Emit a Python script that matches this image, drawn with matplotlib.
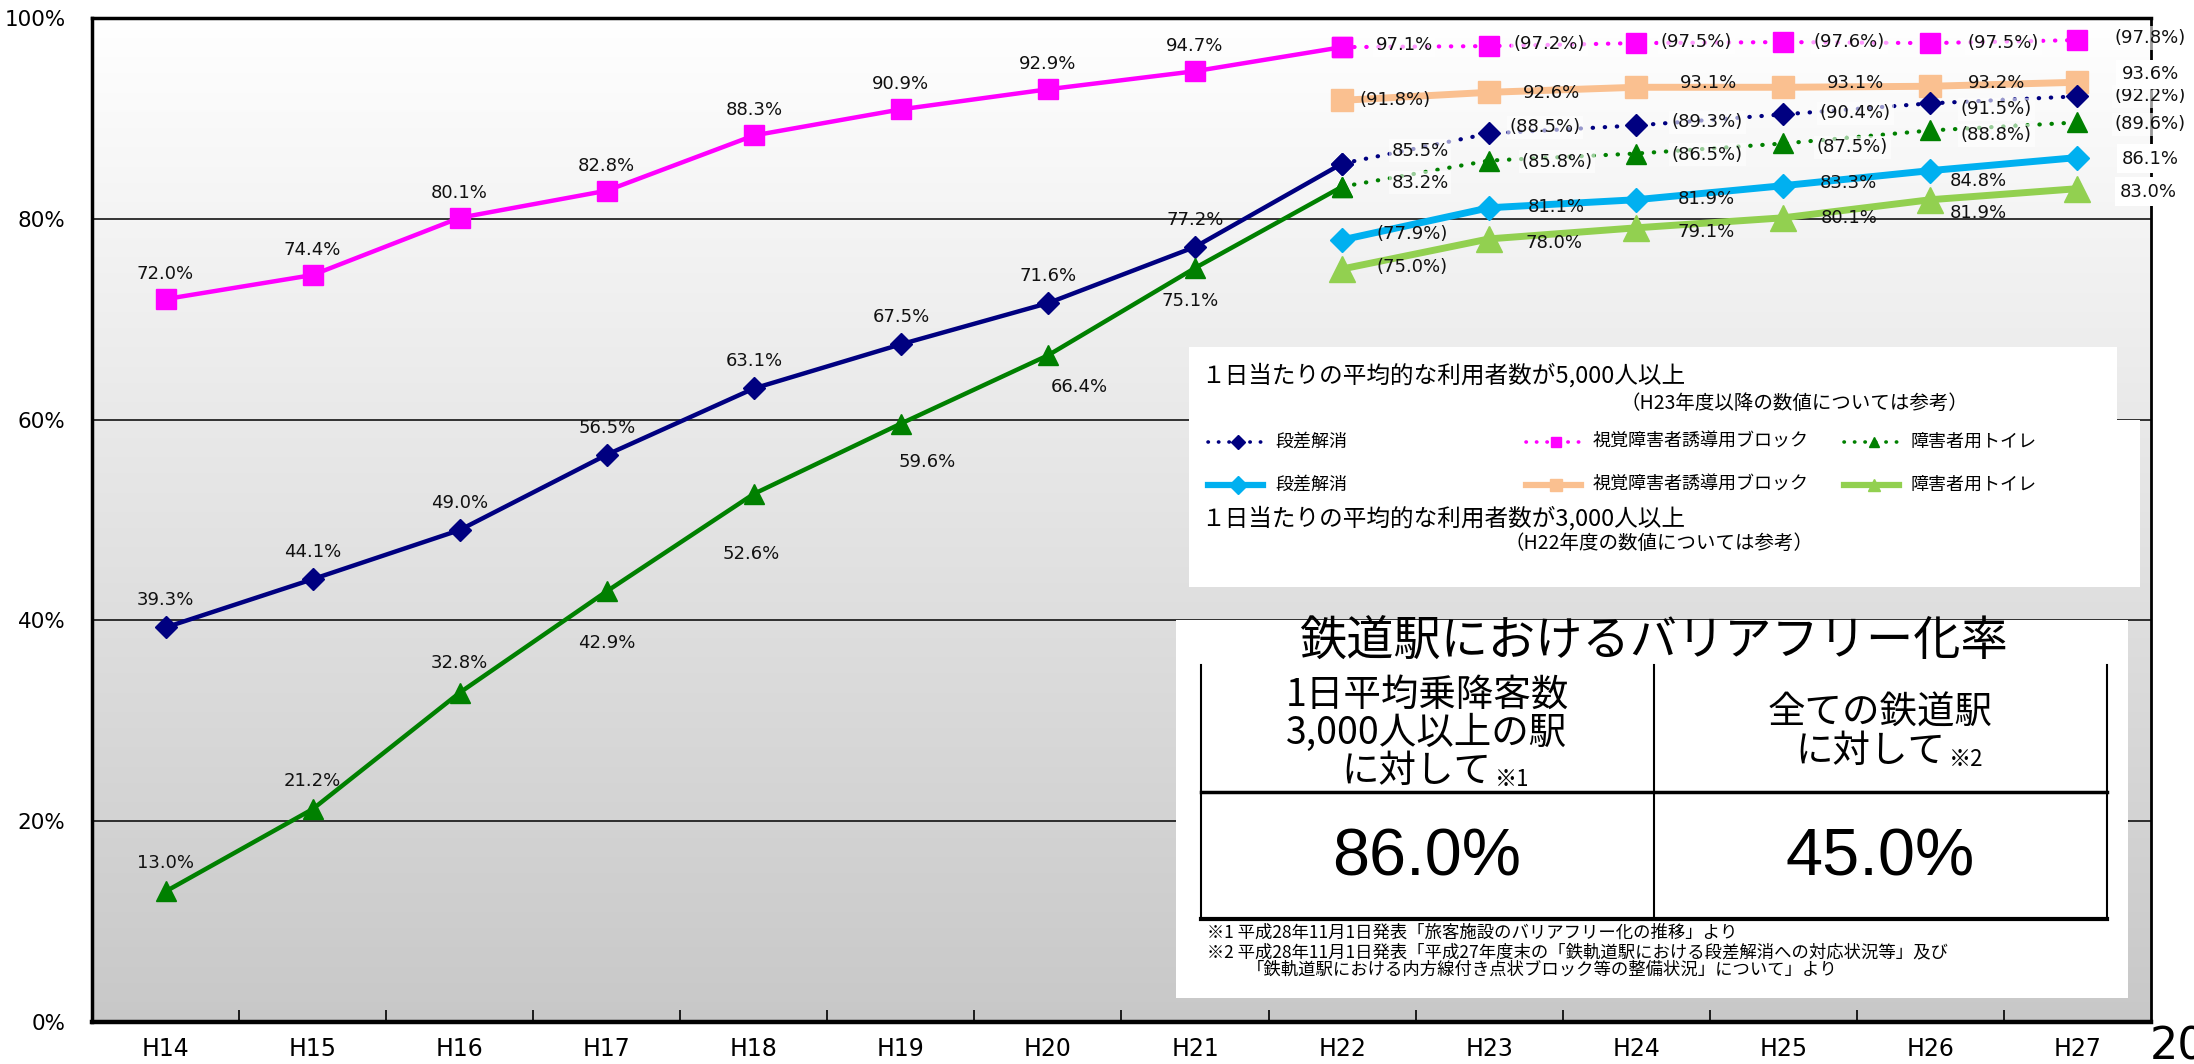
import numpy as np
import matplotlib
matplotlib.use("Agg")
import matplotlib.pyplot as plt
from matplotlib.patches import Rectangle

# --- data -------------------------------------------------------------
years = ["H14", "H15", "H16", "H17", "H18", "H19", "H20",
         "H21", "H22", "H23", "H24", "H25", "H26", "H27"]

# 1日当たりの平均的な利用者数が5,000人以上 (H14-H27)
block_5000 = [72.0, 74.4, 80.1, 82.8, 88.3, 90.9, 92.9, 94.7, 97.1, 97.2, 97.5, 97.6, 97.5, 97.8]
step_5000 = [39.3, 44.1, 49.0, 56.5, 63.1, 67.5, 71.6, 77.2, 85.5, 88.5, 89.3, 90.4, 91.5, 92.2]
toilet_5000 = [13.0, 21.2, 32.8, 42.9, 52.6, 59.6, 66.4, 75.1, 83.2, 85.8, 86.5, 87.5, 88.8, 89.6]

# 1日当たりの平均的な利用者数が3,000人以上 (H22-H27)
years_3000 = ["H22", "H23", "H24", "H25", "H26", "H27"]
step_3000 = [77.9, 81.1, 81.9, 83.3, 84.8, 86.1]
block_3000 = [91.8, 92.6, 93.1, 93.1, 93.2, 93.6]
toilet_3000 = [75.0, 78.0, 79.1, 80.1, 81.9, 83.0]

table_values = [86.0, 45.0]

# --- layout (pixel offsets of the value labels) -----------------------
off_block_5000 = [(0, 25)] * 8 + [(62, 2), (60, 2), (60, 1), (66, 0), (73, 0), (73, 2)]
off_step_5000 = [(0, 27)] * 8 + [(78, 13), (56, 6), (71, 3), (72, 1), (66, -6), (73, 0)]
off_toilet_5000 = [(0, 28), (0, 28), (0, 30), (0, -52), (-3, -60), (26, -38), (31, -32),
                   (-5, -33), (78, 4), (68, -1), (71, -1), (69, -4), (66, -5), (73, -2)]
off_step_3000 = [(70, 6), (67, 1), (70, 1), (65, 3), (48, -10), (73, -1)]
off_block_3000 = [(53, 0), (62, -1), (72, 4), (72, 4), (66, 3), (73, 8)]
off_toilet_3000 = [(70, 2), (65, -4), (70, -4), (66, 0), (48, -13), (71, -3)]

JP = ["Noto Sans CJK JP", "DejaVu Sans"]
plt.rcParams["font.family"] = ["DejaVu Sans", "Noto Sans CJK JP"]

W, H = 2194, 1064
fig = plt.figure(figsize=(W / 100, H / 100), dpi=100)
fig.patch.set_facecolor("white")

ax = fig.add_axes([92 / W, 1 - 1022 / H, (2151 - 92) / W, (1022 - 18) / H])
ax.set_xlim(-0.5, len(years) - 0.5)
ax.set_ylim(0, 100)

# gradient background
shade = np.linspace(255, 200, 256) / 255
ax.imshow(np.dstack([shade, shade, shade]).reshape(-1, 1, 3),
          extent=(-0.5, len(years) - 0.5, 0, 100), aspect="auto", zorder=0)
for g in [20, 40, 60, 80]:
    ax.axhline(g, color="black", lw=1.1, zorder=1)

x = np.arange(len(years))
split = years.index("H22")
x3 = np.array([years.index(y) for y in years_3000])
dots = (0, (0.1, 2.8))


def label_text(v, paren):
    return f"({v:.1f}%)" if paren else f"{v:.1f}%"


series_5000 = [
    (block_5000, "#ff00ff", "s", 14.5, off_block_5000),
    (step_5000, "#000080", "D", 11, off_step_5000),
    (toilet_5000, "#008000", "^", 15, off_toilet_5000),
]
for vals, col, mk, ms, offs in series_5000:
    ax.plot(x[:split + 1], vals[:split + 1], color=col, lw=3.2, marker=mk, ms=ms, zorder=4)
    ax.plot(x[split:], vals[split:], color=col, lw=3, ls=dots, dash_capstyle="round",
            marker=mk, ms=ms, zorder=4)
    for i, v in enumerate(vals):
        box = None
        if i >= split:
            box = dict(boxstyle="square,pad=0.15", fc="white", ec="none", alpha=0.6)
        ax.annotate(label_text(v, i > split), (x[i], v), xytext=offs[i],
                    textcoords="offset pixels", ha="center", va="center",
                    fontsize=13, color="#111111", bbox=box, zorder=6)

series_3000 = [
    (step_3000, "#00b0f0", "D", 12.5, off_step_3000),
    (block_3000, "#fac090", "s", 16, off_block_3000),
    (toilet_3000, "#92d050", "^", 19, off_toilet_3000),
]
for vals, col, mk, ms, offs in series_3000:
    ax.plot(x3, vals, color=col, lw=5, marker=mk, ms=ms, zorder=3)
    for i, v in enumerate(vals):
        box = None
        if i == len(vals) - 1:
            box = dict(boxstyle="square,pad=0.3", fc="white", ec="none")
        ax.annotate(label_text(v, i == 0), (x3[i], v), xytext=offs[i],
                    textcoords="offset pixels", ha="center", va="center",
                    fontsize=13, color="#111111", bbox=box, zorder=6)

# axes styling
ax.set_yticks([0, 20, 40, 60, 80, 100])
ax.set_yticklabels([f"{v}%" for v in [0, 20, 40, 60, 80, 100]], fontsize=15.5)
ax.set_xticks(x)
ax.set_xticklabels(years, fontsize=17)
ax.set_xticks(x[:-1] + 0.5, minor=True)
ax.tick_params(axis="y", length=0, pad=19)
ax.tick_params(axis="x", which="major", length=0, pad=11)
ax.tick_params(axis="x", which="minor", direction="in", length=9, width=1.2)
for side, lw in [("left", 2.5), ("top", 2.5), ("bottom", 3.2), ("right", 2)]:
    ax.spines[side].set_linewidth(lw)

# --- overlay in figure pixels: legend box and table -------------------
ov = fig.add_axes([0, 0, 1, 1])
ov.set_xlim(0, W)
ov.set_ylim(H, 0)
ov.axis("off")

ov.add_patch(Rectangle((1189, 347), 928, 73, fc="white", ec="none"))
ov.add_patch(Rectangle((1189, 420), 951, 167, fc="white", ec="none"))
ov.add_patch(Rectangle((1176, 620), 952, 378, fc="white", ec="none"))

ov.text(1201, 375, "１日当たりの平均的な利用者数が5,000人以上", fontsize=17,
        family=JP, va="center", ha="left")
ov.text(1621, 403, "（H23年度以降の数値については参考）", fontsize=14,
        family=JP, va="center", ha="left")
ov.text(1201, 518, "１日当たりの平均的な利用者数が3,000人以上", fontsize=17,
        family=JP, va="center", ha="left")
ov.text(1505, 543, "（H22年度の数値については参考）", fontsize=14,
        family=JP, va="center", ha="left")

legend_names = ["段差解消", "視覚障害者誘導用ブロック", "障害者用トイレ"]
legend_x = [1208, 1526, 1844]
legend_pairs = [(series_5000[1], series_3000[0]),
                (series_5000[0], series_3000[1]),
                (series_5000[2], series_3000[2])]
for k, (s5, s3) in enumerate(legend_pairs):
    x0 = legend_x[k]
    ov.plot([x0, x0 + 55], [442, 442], color=s5[1], lw=2.6, ls=dots, dash_capstyle="round")
    ov.plot([x0 + 30], [442], color=s5[1], marker=s5[2], ms=7, ls="none")
    ov.plot([x0, x0 + 55], [485, 485], color=s3[1], lw=4.5)
    ov.plot([x0 + 30], [485], color=s3[1], marker=s3[2], ms=9, ls="none")
    ov.text(x0 + 67, 442, legend_names[k], fontsize=13, family=JP, va="center", ha="left")
    ov.text(x0 + 67, 485, legend_names[k], fontsize=13, family=JP, va="center", ha="left")

# table
ov.text(1653, 643, "鉄道駅におけるバリアフリー化率", fontsize=34, family=JP,
        ha="center", va="center")
for xv in [1201, 1654, 2107]:
    ov.plot([xv, xv], [665, 919], color="black", lw=1.5)
ov.plot([1201, 2107], [792, 792], color="black", lw=2.5)
ov.plot([1201, 2107], [919, 919], color="black", lw=3)

ov.text(1427, 695, "1日平均乗降客数", fontsize=27, family=JP, ha="center", va="center")
ov.text(1427, 733, "3,000人以上の駅", fontsize=27, family=JP, ha="center", va="center")
ov.text(1491, 771, "に対して", fontsize=27, family=JP, ha="right", va="center")
ov.text(1495, 779, "※1", fontsize=16, family=JP, ha="left", va="center")
ov.text(1880, 713, "全ての鉄道駅", fontsize=27, family=JP, ha="center", va="center")
ov.text(1945, 751, "に対して", fontsize=27, family=JP, ha="right", va="center")
ov.text(1949, 759, "※2", fontsize=16, family=JP, ha="left", va="center")

for xc, v in zip([1427, 1880], table_values):
    ov.text(xc, 858, f"{v:.1f}%", fontsize=48, family=["Liberation Sans", "DejaVu Sans"],
            ha="center", va="center")

ov.text(1207, 933, "※1 平成28年11月1日発表「旅客施設のバリアフリー化の推移」より",
        fontsize=12.5, family=JP, ha="left", va="center")
ov.text(1207, 952, "※2 平成28年11月1日発表「平成27年度末の「鉄軌道駅における段差解消への対応状況等」及び",
        fontsize=12.5, family=JP, ha="left", va="center")
ov.text(1247, 970, "「鉄軌道駅における内方線付き点状ブロック等の整備状況」について」より",
        fontsize=12.5, family=JP, ha="left", va="center")

# the reference shows this text cut by the right edge
ov.text(2150, 1047, "20", fontsize=32, ha="left", va="center")

fig.savefig("out.png", dpi=100, facecolor="white")
